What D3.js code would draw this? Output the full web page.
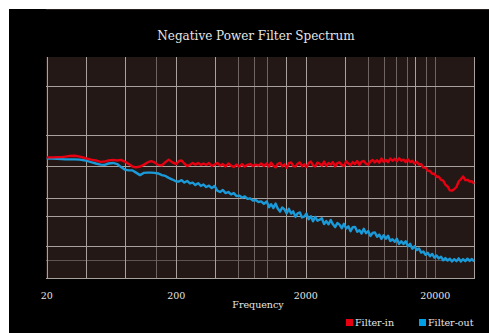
<!DOCTYPE html>
<html>
<head>
<meta charset="utf-8">
<script src="https://cdn.jsdelivr.net/npm/d3@7"></script>
<style>
  body { margin: 0; background: #fff; }
  svg { display: block; }
  text { font-family: "DejaVu Serif", "Liberation Serif", serif; fill: #e6e6e6; }
</style>
</head>
<body>
<svg id="chart" width="489" height="333"></svg>
<script>
const title = 'Negative Power Filter Spectrum';
const xLabel = 'Frequency';
const seriesNames = ['Filter-in', 'Filter-out'];
const seriesColors = ['#e60012', '#1a9ad8'];

const xTicks = [20, 200, 2000, 20000];
const xGridMajor = [20, 40, 80, 200, 400, 1400, 2000, 4000, 14000, 40000];
const xGridMinor = [140, 600, 800, 1000, 6000, 8000, 10000, 12000, 17000, 20000];
const yGridMajor = [-10.5, -28.2, -39.4, -51.1, -57.3, -68.3, -80];
const yGridMinor = [-73.4];

const freqs = [
  20, 22, 24, 26, 28, 30, 33, 36, 40, 44,
  48, 52, 56, 60, 65, 70, 75, 80, 86, 92,
  98, 105, 112, 120, 128, 136, 145, 155, 165, 175,
  187, 200, 210, 220, 231, 243, 255, 268, 281, 295,
  310, 325, 341, 358, 376, 395, 415, 436, 458, 481,
  505, 530, 556, 584, 613, 644, 676, 710, 745, 782,
  821, 862, 905, 950,
  1000, 1040, 1080, 1125, 1170, 1215, 1265, 1315, 1370, 1425,
  1480, 1540, 1600, 1665, 1730, 1800, 1870, 1945, 2025, 2105,
  2190, 2275, 2365, 2460, 2560, 2660, 2770, 2880, 2995, 3115,
  3240, 3370, 3505, 3645, 3790, 3940, 4100, 4265, 4435, 4610,
  4795, 4990, 5190, 5395, 5610, 5835, 6070, 6310, 6565, 6825,
  7100, 7385, 7680, 7985, 8305, 8635, 8980, 9340, 9715, 10100,
  10505, 10925, 11360, 11815, 12290, 12780, 13290, 13820, 14375, 14950,
  15550, 16170, 16815, 17490, 18190, 18915, 19675, 20460, 21280, 22130,
  23015, 23935, 24890, 25890, 26925, 28000, 29120, 30285, 31500, 32760,
  34070, 35430, 36850, 38320, 39850
];

// dB
const filterIn = [
  -36.3, -36.3, -36.2, -36.2, -36.0, -35.8, -35.7, -36.0, -36.6, -37.1,
  -37.4, -37.9, -37.8, -37.4, -37.2, -37.4, -37.2, -37.8, -38.7, -39.6,
  -39.9, -39.6, -39.0, -38.1, -37.6, -38.1, -39.0, -39.2, -38.0, -37.1,
  -38.1, -38.7, -37.6, -37.4, -38.5, -39.4, -39.0, -38.3, -38.9, -38.3,
  -39.0, -38.5, -39.0, -38.3, -39.4, -38.9, -38.3, -39.2, -38.7, -39.6,
  -38.5, -39.2, -39.8, -38.9, -39.6, -38.7, -39.6, -39.0, -38.7, -39.4,
  -38.9, -39.2, -38.5, -39.4,
  -38.5, -39.6, -38.2, -39.3, -39.9, -38.6, -38.3, -39.5, -38.8, -40.0,
  -38.4, -38.1, -39.4, -39.6, -38.6, -38.1, -39.5, -38.8, -39.8, -38.3,
  -37.8, -39.1, -39.6, -38.2, -38.6, -39.3, -37.8, -39.4, -38.3, -38.9,
  -38.0, -39.6, -38.4, -38.1, -39.0, -39.4, -37.7, -38.5, -39.1, -38.0,
  -38.7, -37.6, -39.0, -37.8, -37.6, -38.6, -38.9, -37.7, -37.2, -38.1,
  -37.3, -38.2, -36.7, -37.9, -37.2, -38.0, -36.7, -37.5, -36.8, -37.7,
  -36.6, -37.5, -37.1, -38.0, -37.0, -38.0, -37.5, -38.5, -37.9, -38.9,
  -38.7, -40.0, -40.0, -41.1, -41.2, -42.2, -42.2, -43.3, -43.3, -44.4,
  -44.7, -46.2, -46.8, -48.2, -48.3, -47.8, -47.0, -45.0, -44.2, -43.2,
  -44.5, -44.4, -45.0, -44.9, -45.8
];

const filterOut = [
  -36.7, -36.7, -36.8, -36.9, -37.0, -37.0, -37.0, -37.1, -37.4, -38.0,
  -38.5, -38.9, -39.0, -38.5, -38.3, -38.7, -39.8, -40.7, -41.0, -41.0,
  -41.8, -42.7, -41.9, -41.8, -41.8, -41.9, -42.1, -42.7, -43.0, -43.7,
  -44.3, -45.0, -45.0, -44.5, -45.4, -44.8, -45.7, -45.4, -46.3, -45.6,
  -46.6, -46.1, -47.0, -46.5, -47.4, -46.6, -48.3, -48.8, -48.1, -49.2,
  -48.8, -49.7, -49.2, -50.3, -50.1, -50.8, -50.4, -51.3, -51.1, -51.9,
  -51.7, -52.4, -52.2, -53.1,
  -52.2, -54.3, -53.2, -54.6, -53.0, -54.8, -55.9, -54.4, -55.1, -56.5,
  -54.9, -56.6, -55.8, -57.8, -56.5, -56.2, -58.0, -57.7, -56.6, -58.7,
  -57.6, -59.4, -57.8, -59.2, -58.8, -58.3, -60.4, -59.3, -60.5, -58.9,
  -60.5, -61.5, -60.0, -60.6, -61.9, -60.3, -62.0, -61.2, -63.0, -61.5,
  -61.4, -63.2, -62.6, -63.8, -62.1, -63.7, -62.9, -64.7, -63.6, -63.4,
  -65.0, -64.2, -65.8, -64.4, -65.7, -64.6, -66.5, -65.9, -66.8, -65.7,
  -67.6, -66.6, -67.6, -66.6, -68.4, -67.5, -69.3, -68.4, -69.8, -69.2,
  -70.7, -70.3, -71.5, -70.8, -72.0, -71.2, -72.5, -71.8, -72.8, -72.2,
  -73.5, -72.7, -73.6, -72.9, -73.9, -73.1, -73.8, -72.8, -73.9, -73.1,
  -73.8, -72.9, -73.7, -73.0, -73.9
];

const svg = d3.select('svg#chart');

// black panel behind everything
svg.append('rect')
  .attr('x', 9).attr('y', 9)
  .attr('width', 480).attr('height', 324)
  .attr('fill', '#000');

svg.append('line')
  .attr('x1', 46).attr('x2', 489)
  .attr('y1', 9.5).attr('y2', 9.5)
  .attr('stroke', '#2b2020');

const x = d3.scaleLog()
  .domain([20, 40000])
  .range([46.7, 474.3]);

const y = d3.scaleLinear()
  .domain([-80, 0])
  .range([278.3, 57]);

// plot background
svg.append('rect')
  .attr('x', 46).attr('y', 57)
  .attr('width', 429).attr('height', 222)
  .attr('fill', '#231815');

const grid = svg.append('g').attr('shape-rendering', 'crispEdges');

grid.selectAll('line.ymin')
  .data(yGridMinor)
  .join('line')
  .attr('x1', 46).attr('x2', 475)
  .attr('y1', d => Math.round(y(d)) + 0.5)
  .attr('y2', d => Math.round(y(d)) + 0.5)
  .attr('stroke', '#5e5552');

grid.selectAll('line.xmin')
  .data(xGridMinor)
  .join('line')
  .attr('x1', d => Math.round(x(d)) + 0.5)
  .attr('x2', d => Math.round(x(d)) + 0.5)
  .attr('y1', 57).attr('y2', 279)
  .attr('stroke', '#6e6562');

grid.selectAll('line.xmaj')
  .data(xGridMajor)
  .join('line')
  .attr('x1', d => Math.round(x(d)) + 0.5)
  .attr('x2', d => Math.round(x(d)) + 0.5)
  .attr('y1', 57).attr('y2', 279)
  .attr('stroke', '#a9a19e');

grid.selectAll('line.ymaj')
  .data(yGridMajor)
  .join('line')
  .attr('x1', 46).attr('x2', 475)
  .attr('y1', d => Math.round(y(d)) + 0.5)
  .attr('y2', d => Math.round(y(d)) + 0.5)
  .attr('stroke', '#a9a19e');

// series
const line = d3.line()
  .x((d, i) => x(freqs[i]))
  .y(d => y(d));

[filterOut, filterIn].forEach((vals, i) => {
  svg.append('path')
    .datum(vals)
    .attr('fill', 'none')
    .attr('stroke', i === 0 ? seriesColors[1] : seriesColors[0])
    .attr('stroke-width', 2.4)
    .attr('stroke-linejoin', 'round')
    .attr('d', line);
});

// title
svg.append('text')
  .attr('x', 256).attr('y', 40)
  .attr('text-anchor', 'middle')
  .attr('font-size', '12px')
  .text(title);

// x tick labels
svg.selectAll('text.tick')
  .data(xTicks)
  .join('text')
  .attr('class', 'tick')
  .attr('x', d => x(d))
  .attr('y', 299)
  .attr('text-anchor', 'middle')
  .attr('font-size', '9.5px')
  .text(d => d);

svg.append('text')
  .attr('x', 258).attr('y', 308)
  .attr('text-anchor', 'middle')
  .attr('font-size', '9.5px')
  .text(xLabel);

// legend
const legendX = [346, 419];
const legend = svg.selectAll('g.legend')
  .data(seriesNames)
  .join('g')
  .attr('transform', (d, i) => 'translate(' + legendX[i] + ',319)');

legend.append('rect')
  .attr('width', 7).attr('height', 7)
  .attr('fill', (d, i) => i === 0 ? '#e60012' : '#00a0e9');

legend.append('text')
  .attr('x', 9).attr('y', 7)
  .attr('font-size', '9.5px')
  .text(d => d);
</script>
</body>
</html>
